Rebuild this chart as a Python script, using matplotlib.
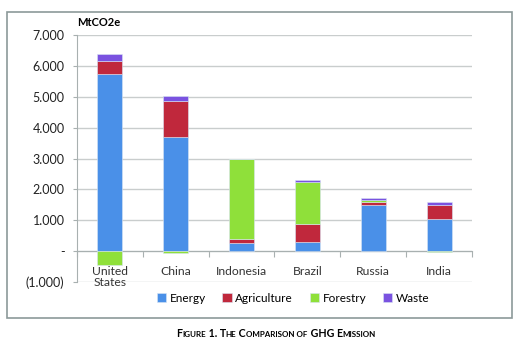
import matplotlib.pyplot as plt
from matplotlib.patches import Rectangle
from matplotlib.ticker import FixedLocator, FuncFormatter

# 数据
countries = ['United\nStates', 'China', 'Indonesia', 'Brazil', 'Russia', 'India']
energy = [5730, 3700, 250, 290, 1510, 1030]
agriculture = [430, 1160, 150, 580, 90, 450]
forestry = [-450, -50, 2570, 1370, 50, -40]
waste = [215, 170, 20, 60, 70, 110]

series_names = ['Energy', 'Agriculture', 'Forestry', 'Waste']
colors = ['#4a90e8', '#c0283c', '#8fe03a', '#7a52e0']

plt.rcParams['font.family'] = ['Lato', 'DejaVu Sans']

fig = plt.figure(figsize=(5.21, 3.51), dpi=100)
ax = fig.add_axes([77 / 521, 1 - 282 / 351, (472 - 77) / 521, (282 - 35) / 351])

x = list(range(len(countries)))
w = 0.38

# 正负分开堆叠
pos_base = [0] * len(x)
neg_base = [0] * len(x)
for name, vals, col in zip(series_names, [energy, agriculture, forestry, waste], colors):
    bottoms = []
    for i, v in enumerate(vals):
        if v >= 0:
            bottoms.append(pos_base[i])
            pos_base[i] += v
        else:
            bottoms.append(neg_base[i])
            neg_base[i] += v
    ax.bar(x, vals, w, bottom=bottoms, color=col, label=name, zorder=3,
           edgecolor='#d8e4f4', linewidth=0.4)

ax.set_xlim(-0.5, 5.5)
ax.set_ylim(-1000, 7000)
ax.yaxis.set_major_locator(FixedLocator(range(-1000, 7001, 1000)))


def fmt(v, pos):
    if v == 0:
        return '-'
    s = f'{abs(v):,.0f}'.replace(',', '.')
    return f'({s})' if v < 0 else s


ax.yaxis.set_major_formatter(FuncFormatter(fmt))
ax.grid(axis='y', color='#c9cdcd', linewidth=1.0, zorder=0)

for s in ['top', 'right']:
    ax.spines[s].set_visible(False)
ax.spines['left'].set_color('#a8b0b0')
ax.spines['bottom'].set_position(('data', 0))
ax.spines['bottom'].set_color('#a8b0b0')

ax.set_xticks([i + 0.5 for i in range(-1, 6)])
ax.set_xticklabels([])
ax.set_xticks(x, minor=True)
ax.set_xticklabels(countries, minor=True, fontsize=8.7, color='#333333', linespacing=1.05)
ax.tick_params(axis='x', which='major', length=4, color='#a8b0b0', direction='out')
ax.tick_params(axis='x', which='minor', length=0, pad=10.5)
ax.tick_params(axis='y', length=3, color='#a8b0b0', labelsize=9, labelcolor='#222222', pad=6)

fig.text(77 / 521, 1 - 23 / 351, 'MtCO2e', fontsize=8, fontweight='bold', ha='left', va='center')

fig.legend(loc='center', bbox_to_anchor=(293 / 521, 1 - 298 / 351), ncol=4, frameon=False,
           fontsize=8.5, handlelength=0.8, handleheight=0.8, handletextpad=0.3, columnspacing=1.4)

# 外框
fig.patches.append(Rectangle((7 / 521, 1 - 318 / 351), (512 - 7) / 521, (318 - 12) / 351,
                             transform=fig.transFigure, fill=False, edgecolor='#8c9999', linewidth=1.2))

# 标题（小型大写字母）
parts = [('F', 7.7), ('IGURE', 5.8), (' 1. T', 7.7), ('HE', 5.8), (' C', 7.7), ('OMPARISON OF', 5.8),
         (' GHG E', 7.7), ('MISSION', 5.8)]
fig.canvas.draw()
renderer = fig.canvas.get_renderer()
texts = []
for txt, size in parts:
    t = fig.text(0, 1 - 337 / 351, txt, fontsize=size, fontweight='bold', ha='left', va='baseline')
    texts.append(t)
widths = []
for t in texts:
    bb = t.get_window_extent(renderer)
    widths.append(bb.width / fig.bbox.width)
total = sum(widths)
xpos = 276 / 521 - total / 2
for t, wd in zip(texts, widths):
    t.set_x(xpos)
    xpos += wd

fig.savefig('out.png', dpi=100)
